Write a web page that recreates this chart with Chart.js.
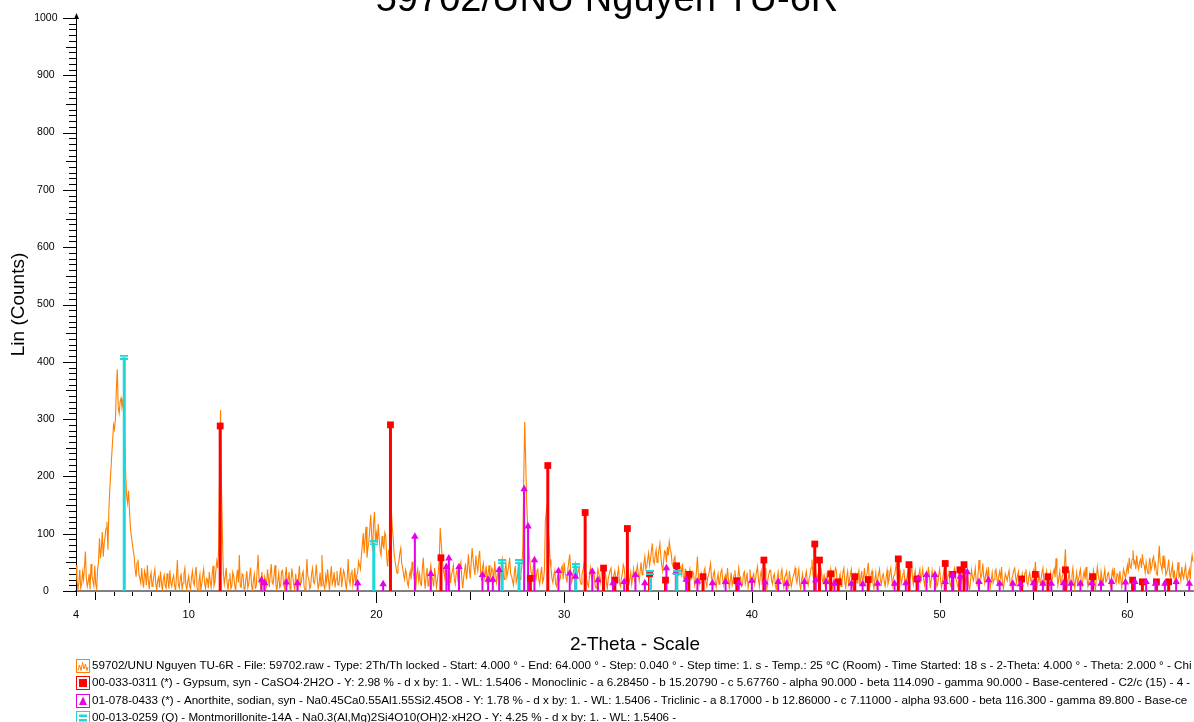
<!DOCTYPE html>
<html>
<head>
<meta charset="utf-8">
<title>59702/UNU Nguyen TU-6R</title>
<script src="https://cdn.jsdelivr.net/npm/chart.js@4.4.1/dist/chart.umd.min.js"></script>
<style>
  html, body { margin: 0; padding: 0; background: #ffffff; overflow: hidden; }
  canvas { display: block; }
</style>
</head>
<body>
<canvas id="xrd" width="1194" height="722"></canvas>
<script>
// Scan: 2-Theta from 4.0 degrees, one reading every 0.05 degree (one row per degree)
const scanStart = 4.0;
const scanStep = 0.05;
const counts = [
  45, 20, 2, 14, 37, 5, 12, 33, 20, 41, 69, 22, 8, 16, 30, 3, 47, 25, 18, 9,
  44, 12, 4, 38, 50, 92, 57, 74, 103, 60, 82, 95, 110, 121, 72, 140, 178, 205, 235, 262,
  290, 282, 300, 352, 387, 318, 310, 330, 337, 322, 330, 300, 263, 199, 165, 153, 175, 140, 110, 95,
  83, 70, 60, 38, 25, 49, 55, 30, 22, 14, 40, 18, 6, 35, 28, 10, 45, 20, 3, 24,
  32, 8, 15, 27, 38, 12, 2, 18, 24, 6, 34, 16, 0, 22, 28, 9, 5, 31, 19, 4,
  36, 14, 8, 21, 27, 10, 0, 25, 54, 12, 5, 19, 31, 3, 14, 30, 40, 11, 2, 17,
  26, 9, 3, 24, 35, 15, 10, 30, 42, 6, 0, 18, 29, 2, 12, 27, 38, 13, 4, 22,
  20, 5, 33, 17, 6, 28, 44, 9, 15, 36, 52, 40, 78, 210, 316, 180, 95, 30, 12, 26,
  40, 14, 2, 20, 31, 4, 9, 33, 26, 11, 0, 22, 37, 15, 63, 8, 6, 30, 28, 3,
  4, 21, 35, 6, 12, 27, 41, 10, 0, 18, 29, 5, 8, 37, 63, 20, 14, 2, 33, 16,
  2, 25, 18, 9, 38, 22, 7, 30, 47, 15, 12, 28, 45, 11, 0, 19, 31, 6, 9, 34,
  36, 14, 5, 26, 42, 8, 20, 33, 3, 17, 39, 24, 11, 2, 30, 13, 0, 23, 44, 10,
  15, 29, 34, 7, 2, 19, 56, 25, 22, 4, 8, 31, 40, 16, 13, 28, 46, 20, 4, 12,
  32, 9, 63, 24, 10, 3, 27, 15, 38, 20, 1, 26, 43, 12, 18, 33, 6, 21, 35, 11,
  10, 28, 41, 7, 22, 36, 30, 14, 3, 25, 56, 19, 12, 31, 37, 9, 20, 40, 8, 27,
  31, 52, 45, 38, 62, 80, 101, 66, 93, 112, 58, 75, 85, 110, 133, 95, 70, 120, 138, 88,
  101, 84, 117, 92, 70, 62, 96, 80, 75, 102, 96, 58, 43, 72, 60, 125, 138, 110, 90, 63,
  51, 40, 31, 45, 51, 66, 75, 48, 40, 28, 20, 37, 31, 14, 8, 25, 35, 20, 51, 33,
  25, 14, 5, 30, 38, 18, 30, 12, 10, 40, 58, 22, 4, 28, 40, 9, 15, 33, 45, 26,
  20, 8, 40, 25, 6, 18, 35, 55, 110, 85, 62, 40, 31, 22, 48, 30, 10, 27, 39, 14,
  28, 35, 45, 20, 12, 30, 38, 16, 26, 42, 50, 21, 5, 24, 36, 48, 20, 37, 64, 40,
  22, 50, 75, 55, 40, 28, 62, 45, 35, 58, 70, 33, 18, 40, 48, 22, 30, 44, 12, 30,
  45, 20, 28, 40, 36, 14, 52, 33, 15, 26, 41, 10, 30, 44, 55, 31, 20, 38, 48, 25,
  33, 45, 58, 30, 26, 18, 10, 32, 44, 15, 22, 38, 35, 20, 30, 45, 75, 200, 295, 230,
  160, 118, 81, 60, 45, 30, 25, 40, 52, 28, 18, 35, 38, 20, 12, 30, 42, 15, 20, 36,
  122, 138, 150, 110, 87, 55, 40, 22, 15, 28, 35, 12, 8, 26, 30, 18, 22, 40, 44, 20,
  50, 33, 24, 15, 38, 52, 64, 30, 15, 22, 35, 42, 48, 20, 26, 36, 40, 18, 12, 29,
  36, 45, 58, 32, 20, 12, 8, 26, 40, 24, 18, 34, 30, 10, 5, 21, 38, 30, 22, 14,
  44, 25, 12, 20, 33, 16, 4, 22, 28, 36, 40, 19, 10, 28, 35, 24, 18, 30, 40, 14,
  8, 22, 30, 46, 40, 20, 15, 28, 36, 10, 22, 33, 12, 25, 38, 18, 26, 34, 45, 30,
  18, 35, 50, 28, 35, 48, 60, 38, 42, 55, 66, 45, 55, 70, 83, 52, 48, 62, 72, 50,
  58, 72, 83, 60, 45, 35, 52, 70, 68, 50, 77, 62, 86, 74, 66, 48, 42, 55, 60, 38,
  40, 26, 28, 45, 42, 30, 48, 24, 20, 38, 35, 12, 15, 28, 38, 20, 22, 34, 30, 10,
  18, 35, 60, 28, 12, 20, 30, 16, 22, 34, 40, 15, 8, 24, 28, 38, 48, 22, 14, 30,
  35, 16, 6, 20, 30, 12, 20, 33, 38, 18, 10, 24, 28, 14, 40, 22, 4, 18, 32, 10,
  18, 28, 36, 14, 2, 22, 40, 26, 24, 8, 10, 30, 34, 12, 20, 32, 5, 16, 38, 20,
  14, 25, 30, 12, 22, 34, 43, 20, 8, 26, 35, 15, 18, 30, 40, 12, 3, 20, 28, 36,
  36, 18, 12, 26, 30, 10, 2, 22, 33, 15, 20, 31, 38, 17, 6, 24, 28, 34, 15, 8,
  35, 20, 8, 17, 26, 30, 40, 22, 14, 28, 38, 12, 3, 21, 30, 10, 16, 25, 34, 18,
  10, 22, 28, 40, 55, 30, 18, 32, 40, 20, 26, 10, 4, 25, 36, 20, 15, 30, 8, 24,
  32, 20, 14, 26, 38, 15, 5, 18, 28, 40, 36, 12, 10, 22, 30, 8, 18, 33, 40, 16,
  6, 24, 34, 12, 20, 30, 38, 16, 2, 19, 30, 22, 14, 28, 36, 10, 22, 35, 10, 26,
  40, 15, 24, 35, 49, 22, 12, 28, 35, 14, 4, 20, 32, 10, 20, 30, 38, 18, 12, 26,
  30, 16, 8, 24, 36, 12, 18, 32, 40, 20, 10, 26, 28, 38, 50, 22, 14, 28, 34, 12,
  20, 30, 38, 14, 6, 22, 32, 18, 40, 28, 51, 24, 12, 28, 36, 15, 3, 20, 30, 38,
  18, 26, 38, 20, 10, 24, 32, 14, 42, 30, 5, 18, 36, 24, 20, 34, 30, 8, 12, 28,
  38, 20, 6, 16, 30, 38, 45, 22, 15, 28, 36, 12, 8, 24, 28, 34, 40, 22, 18, 10,
  5, 20, 34, 15, 20, 30, 38, 22, 12, 26, 30, 10, 2, 19, 36, 24, 18, 28, 40, 16,
  10, 30, 54, 35, 22, 30, 48, 25, 14, 28, 36, 20, 42, 18, 6, 20, 32, 14, 20, 34,
  38, 22, 12, 26, 34, 20, 42, 15, 4, 18, 30, 24, 18, 28, 36, 14, 8, 22, 28, 36,
  40, 24, 14, 28, 34, 12, 3, 20, 30, 16, 20, 32, 38, 15, 10, 24, 32, 18, 16, 30,
  36, 22, 51, 28, 8, 18, 30, 14, 18, 32, 40, 20, 12, 26, 35, 15, 5, 22, 32, 14,
  20, 32, 38, 24, 57, 30, 10, 22, 34, 15, 18, 28, 30, 45, 73, 30, 8, 20, 36, 12,
  16, 28, 40, 18, 4, 20, 32, 12, 20, 30, 38, 16, 10, 25, 34, 20, 42, 22, 8, 18,
  30, 20, 14, 26, 36, 15, 2, 24, 42, 28, 20, 12, 34, 22, 10, 26, 38, 16, 18, 30,
  32, 18, 8, 22, 36, 25, 40, 20, 14, 30, 28, 12, 35, 20, 6, 24, 38, 30, 22, 34,
  45, 30, 58, 42, 40, 55, 71, 48, 52, 38, 62, 45, 38, 50, 55, 40, 64, 48, 45, 32,
  50, 38, 30, 44, 58, 35, 42, 55, 60, 40, 48, 30, 28, 52, 79, 50, 44, 35, 62, 40,
  52, 28, 32, 40, 55, 30, 24, 36, 46, 22, 36, 15, 20, 34, 50, 25, 30, 18, 42, 28,
  22, 35, 45, 24, 18, 30, 38, 20, 50, 62, 51
];

// Reference patterns (stick positions in 2-Theta, heights in counts)
const gypsumAngle = [11.68, 20.75, 23.44, 28.2, 29.13, 31.12, 32.1, 32.7, 33.37, 34.55, 35.4, 35.99, 36.64, 37.4, 39.2, 40.64, 43.35, 43.6, 44.2, 44.6, 45.48, 46.2, 47.8, 48.37, 48.8, 50.3, 50.7, 51.08, 51.3, 54.37, 55.1, 55.77, 56.7, 58.15, 60.28, 60.8, 61.55, 62.2];
const gypsumHeight = [288, 290, 58, 22, 219, 137, 40, 19, 109, 30, 19, 44, 29, 25, 18, 54, 82, 54, 30, 16, 25, 20, 56, 46, 21, 48, 29, 37, 46, 21, 29, 25, 37, 25, 19, 16, 16, 16];

const anorthiteAngle = [13.88, 14.05, 15.2, 15.8, 19.0, 20.36, 22.05, 22.9, 23.73, 23.86, 24.4, 25.65, 25.95, 26.2, 26.54, 27.87, 28.08, 28.42, 29.7, 30.3, 30.6, 31.5, 31.8, 32.6, 33.2, 33.8, 34.3, 35.45, 35.95, 36.5, 37.1, 37.9, 38.6, 39.3, 40.0, 40.7, 41.4, 41.85, 42.8, 43.4, 43.95, 44.4, 45.3, 45.9, 46.7, 47.6, 48.2, 48.86, 49.3, 49.75, 50.3, 50.7, 51.1, 51.47, 52.1, 52.6, 53.2, 53.9, 54.3, 55.0, 55.5, 55.95, 56.6, 57.0, 57.5, 58.1, 58.6, 59.16, 59.9, 60.4, 61.0, 61.5, 62.0, 62.6, 63.3];
const anorthiteHeight = [19, 14, 15, 14, 14, 12, 95, 30, 42, 57, 42, 28, 20, 20, 37, 178, 113, 54, 35, 31, 25, 34, 19, 14, 16, 28, 14, 40, 33, 20, 17, 14, 16, 14, 18, 15, 16, 13, 16, 19, 16, 13, 13, 12, 13, 13, 14, 22, 28, 28, 16, 28, 25, 33, 16, 19, 13, 13, 12, 14, 13, 13, 14, 13, 13, 14, 13, 16, 15, 16, 16, 13, 13, 16, 13];

const montAngle = [6.57, 19.86, 26.7, 27.6, 30.62, 34.6, 36.0];
const montHeight = [408, 84, 51, 51, 44, 32, 32];

// Axis ranges and labelled ticks
const xRange = [4, 63.55];
const yRange = [0, 1000];
const xTickLabels = [4, 10, 20, 30, 40, 50, 60];
const yTickLabels = [0, 100, 200, 300, 400, 500, 600, 700, 800, 900, 1000];

const chartTitle = '59702/UNU Nguyen TU-6R';
const xTitle = '2-Theta - Scale';
const yTitle = 'Lin (Counts)';
const legendLines = [
  '59702/UNU Nguyen TU-6R - File: 59702.raw - Type: 2Th/Th locked - Start: 4.000 \u00b0 - End: 64.000 \u00b0 - Step: 0.040 \u00b0 - Step time: 1. s - Temp.: 25 \u00b0C (Room) - Time Started: 18 s - 2-Theta: 4.000 \u00b0 - Theta: 2.000 \u00b0 - Chi',
  '00-033-0311 (*) - Gypsum, syn - CaSO4\u00b72H2O - Y: 2.98 % - d x by: 1. - WL: 1.5406 - Monoclinic - a 6.28450 - b 15.20790 - c 5.67760 - alpha 90.000 - beta 114.090 - gamma 90.000 - Base-centered - C2/c (15) - 4 -',
  '01-078-0433 (*) - Anorthite, sodian, syn - Na0.45Ca0.55Al1.55Si2.45O8 - Y: 1.78 % - d x by: 1. - WL: 1.5406 - Triclinic - a 8.17000 - b 12.86000 - c 7.11000 - alpha 93.600 - beta 116.300 - gamma 89.800 - Base-ce',
  '00-013-0259 (Q) - Montmorillonite-14A - Na0.3(Al,Mg)2Si4O10(OH)2\u00b7xH2O - Y: 4.25 % - d x by: 1. - WL: 1.5406 -'
];

const COL_SCAN = '#ff8000';
const COL_GYP = '#ff0000';
const COL_ANO = '#e600e6';
const COL_MON = '#1ed8d8';
const FONT = '"Liberation Sans", Arial, sans-serif';

// Scan points
const scanPoints = counts.map((c, i) => ({ x: +(scanStart + i * scanStep).toFixed(2), y: c }));

// Vertical sticks: each peak is a segment from 0 to its height, separated by gaps
function sticks(pos, hgt) {
  const pts = [];
  pos.forEach((p, i) => { pts.push({ x: p, y: 0 }, { x: p, y: hgt[i] }, { x: p, y: null }); });
  return pts;
}
function tops(pos, hgt) {
  return pos.map((p, i) => ({ x: p, y: hgt[i] }));
}

// "=" marker for the montmorillonite pattern
function equalsMarker(color, w, h) {
  const c = document.createElement('canvas');
  c.width = w; c.height = h;
  const g = c.getContext('2d');
  g.fillStyle = color;
  g.fillRect(0, 0, w, 2);
  g.fillRect(0, h - 2, w, 2);
  return c;
}
const monMarker = equalsMarker(COL_MON, 8, 5);

// Axis tick marks, title and the pattern legend
const framePlugin = {
  id: 'xrdFrame',
  afterDraw(chart) {
    const { ctx, chartArea, scales } = chart;
    const xs = scales.x, ys = scales.y;
    ctx.save();
    ctx.strokeStyle = '#000';
    ctx.lineWidth = 1;
    ctx.beginPath();
    for (let v = yRange[0]; v <= yRange[1]; v += 10) {
      const len = v % 100 === 0 ? 13 : (v % 50 === 0 ? 10 : 7);
      const py = Math.round(ys.getPixelForValue(v)) + 0.5;
      ctx.moveTo(chartArea.left - len, py);
      ctx.lineTo(chartArea.left, py);
    }
    for (let v = Math.ceil(xRange[0]); v <= xRange[1]; v += 1) {
      const len = v % 10 === 0 ? 11 : (v % 5 === 0 ? 8 : 4);
      const px = Math.round(xs.getPixelForValue(v)) + 0.5;
      ctx.moveTo(px, chartArea.bottom + 1);
      ctx.lineTo(px, chartArea.bottom + 1 + len);
    }
    ctx.stroke();
    // small arrow at the top of the count axis
    const ax = chartArea.left + 0.5;
    ctx.fillStyle = '#000';
    ctx.beginPath();
    ctx.moveTo(ax, chartArea.top - 5);
    ctx.lineTo(ax - 2.5, chartArea.top + 1);
    ctx.lineTo(ax + 2.5, chartArea.top + 1);
    ctx.closePath();
    ctx.fill();

    // chart title
    ctx.fillStyle = '#000';
    ctx.font = '38px ' + FONT;
    ctx.textAlign = 'center';
    ctx.textBaseline = 'alphabetic';
    ctx.fillText(chartTitle, 607, 11);

    // legend rows
    const rowY = [665.5, 683, 700.5, 717.5];
    const colors = [COL_SCAN, COL_GYP, COL_ANO, COL_MON];
    ctx.font = '11.65px ' + FONT;
    ctx.textAlign = 'left';
    ctx.textBaseline = 'middle';
    legendLines.forEach((txt, i) => {
      const cy = rowY[i];
      const bx = 76.5, by = Math.round(cy - 7) + 0.5, bs = 13;
      ctx.strokeStyle = colors[i];
      ctx.fillStyle = colors[i];
      ctx.lineWidth = 1;
      ctx.strokeRect(bx, by, bs, bs);
      if (i === 0) {
        ctx.beginPath();
        const pts = [[1.5, 11], [3, 5.5], [4.5, 11], [6, 3], [7.5, 9.5], [9, 4.5], [10.5, 11], [11.5, 7.5]];
        pts.forEach((p, k) => { k ? ctx.lineTo(bx + p[0], by + p[1]) : ctx.moveTo(bx + p[0], by + p[1]); });
        ctx.stroke();
      } else if (i === 1) {
        ctx.fillRect(bx + 2.5, by + 2.5, 8, 8);
      } else if (i === 2) {
        ctx.beginPath();
        ctx.moveTo(bx + 6.5, by + 2);
        ctx.lineTo(bx + 10.5, by + 10.5);
        ctx.lineTo(bx + 2.5, by + 10.5);
        ctx.closePath();
        ctx.fill();
      } else {
        ctx.fillRect(bx + 2.5, by + 3, 8, 2.5);
        ctx.fillRect(bx + 2.5, by + 7.5, 8, 2.5);
      }
      ctx.fillStyle = '#000';
      ctx.fillText(txt, 92, cy);
    });
    ctx.restore();
  }
};

new Chart(document.getElementById('xrd'), {
  type: 'scatter',
  data: {
    datasets: [
      { type: 'scatter', data: tops(montAngle, montHeight), pointStyle: monMarker, pointRadius: 4, order: 1 },
      { type: 'scatter', data: tops(anorthiteAngle, anorthiteHeight), pointStyle: 'triangle', pointRadius: 4.3, backgroundColor: COL_ANO, borderWidth: 0, order: 2 },
      { type: 'scatter', data: tops(gypsumAngle, gypsumHeight), pointStyle: 'rect', pointRadius: 4.8, backgroundColor: COL_GYP, borderWidth: 0, order: 3 },
      { type: 'line', data: sticks(montAngle, montHeight), borderColor: COL_MON, borderWidth: 3, pointRadius: 0, spanGaps: false, order: 4 },
      { type: 'line', data: sticks(anorthiteAngle, anorthiteHeight), borderColor: COL_ANO, borderWidth: 2, pointRadius: 0, spanGaps: false, order: 5 },
      { type: 'line', data: sticks(gypsumAngle, gypsumHeight), borderColor: COL_GYP, borderWidth: 3, pointRadius: 0, spanGaps: false, order: 6 },
      { type: 'line', data: scanPoints, borderColor: COL_SCAN, borderWidth: 1.1, pointRadius: 0, tension: 0, order: 10 }
    ]
  },
  options: {
    responsive: false,
    animation: false,
    devicePixelRatio: 1,
    layout: { autoPadding: false, padding: { top: 18, right: 0, bottom: 61, left: 0 } },
    plugins: { legend: { display: false }, tooltip: { enabled: false }, title: { display: false } },
    scales: {
      x: {
        type: 'linear', min: xRange[0], max: xRange[1], offset: false,
        afterBuildTicks: s => { s.ticks = xTickLabels.map(v => ({ value: v })); },
        afterFit: s => { s.height = 70; s.paddingLeft = 0; s.paddingRight = 0; },
        grid: { display: true, drawOnChartArea: false, drawTicks: false },
        border: { display: true, color: '#808080', width: 2 },
        ticks: { autoSkip: false, maxRotation: 0, padding: 17, color: '#000', font: { family: FONT, size: 11 }, callback: v => String(v) },
        title: { display: true, text: xTitle, color: '#000', font: { family: FONT, size: 19 }, padding: { top: 0, bottom: 5 } }
      },
      y: {
        type: 'linear', min: yRange[0], max: yRange[1],
        afterBuildTicks: s => { s.ticks = yTickLabels.map(v => ({ value: v })); },
        afterFit: s => { s.width = 76; s.paddingTop = 0; s.paddingBottom = 0; },
        grid: { display: true, drawOnChartArea: false, drawTicks: false },
        border: { display: true, color: '#000', width: 1 },
        ticks: { autoSkip: false, padding: 18.5, crossAlign: 'center', color: '#000', font: { family: FONT, size: 10.5 }, callback: v => String(v) },
        title: { display: true, text: yTitle, color: '#000', font: { family: FONT, size: 19 }, padding: { top: 7, bottom: 0 } }
      }
    }
  },
  plugins: [framePlugin]
});
</script>
</body>
</html>
